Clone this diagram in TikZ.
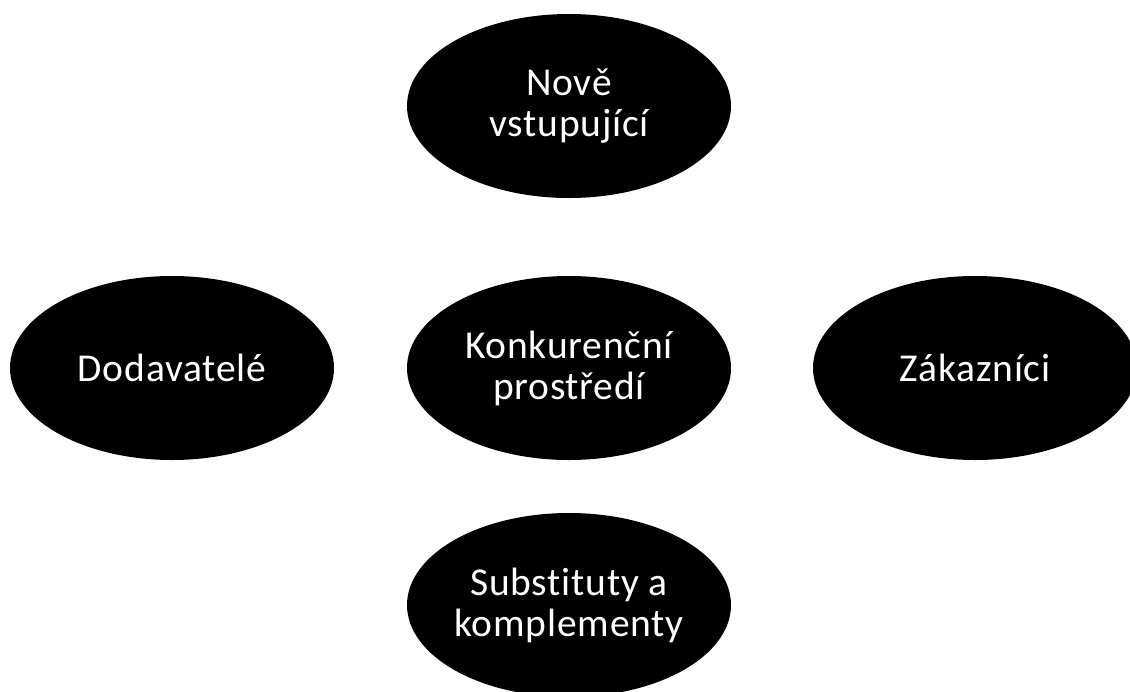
\documentclass[tikz,border=0pt]{standalone}
\usepackage{fontspec}
\setmainfont{Carlito}[Ligatures=NoCommon,LetterSpace=2]
\usetikzlibrary{shapes.geometric}

\begin{document}
\begin{tikzpicture}[x=1pt,y=-1pt, every node/.style={font=\fontsize{39.5}{41}\selectfont},
	force/.style={ellipse,fill=black,text=white,align=center,inner sep=0pt,minimum width=324pt,minimum height=184pt}]
			\useasboundingbox (0,0) rectangle (1130,691);
			\node[force] (entrants) at (569,106) {Nově\\vstupující};
			\node[force] (suppliers) at (172,368) {Dodavatelé};
			\node[force] (rivalry) at (569,368) {Konkurenční\\prostředí};
			\node[force] (customers) at (975,368) {Zákazníci};
			\node[force] (substitutes) at (569,605) {Substituty a\\komplementy};
		\end{tikzpicture}
\end{document}
